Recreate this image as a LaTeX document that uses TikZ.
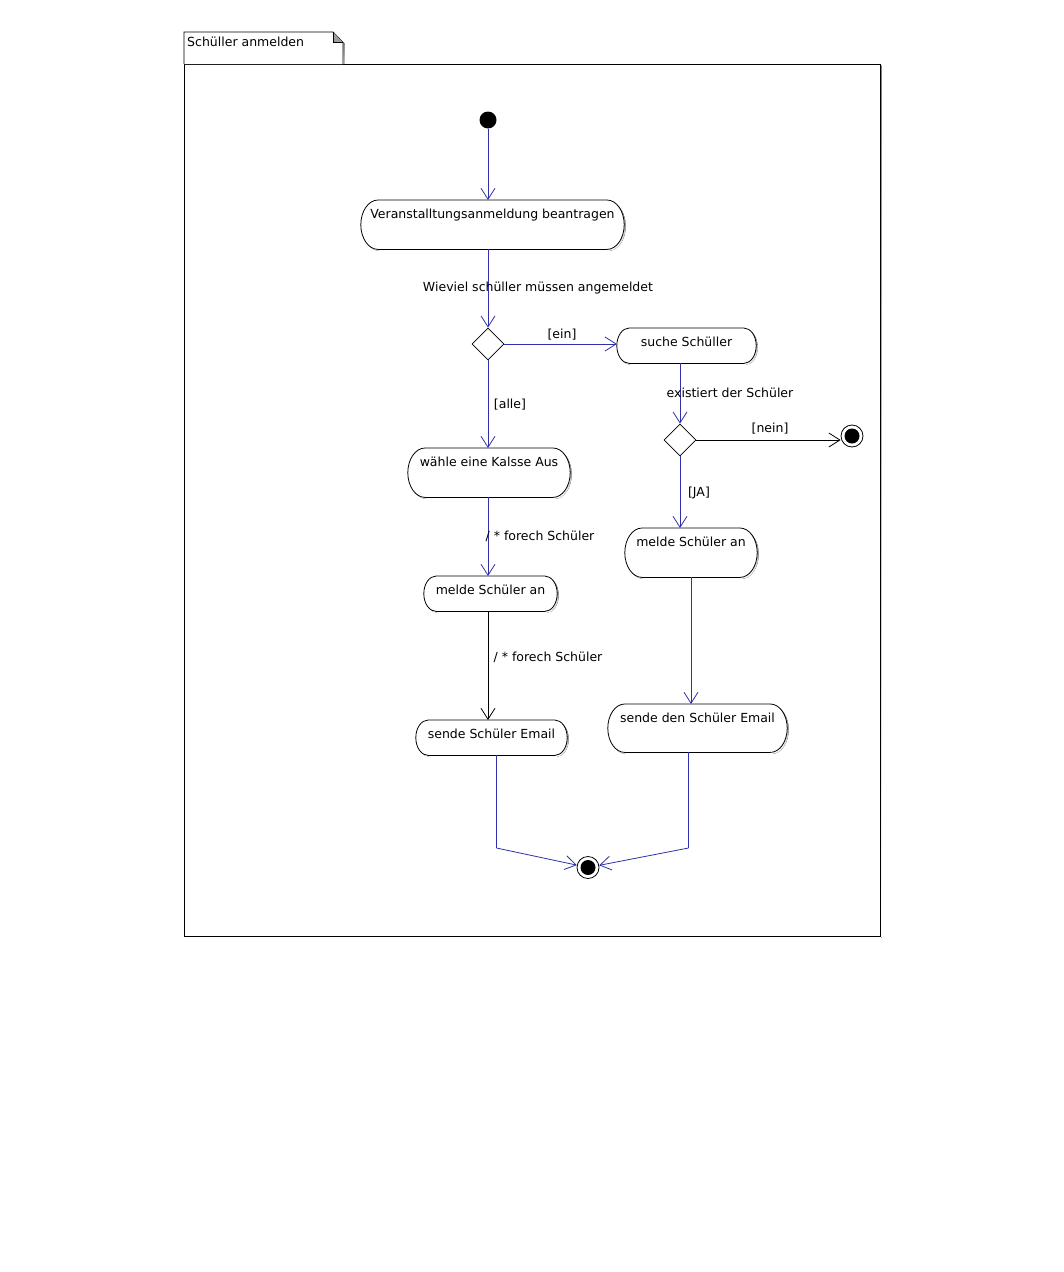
\documentclass[tikz,border=0pt]{standalone}
\usepackage{fontspec}
\setmainfont{DejaVu Sans}
\usetikzlibrary{arrows.meta,shapes.geometric,calc,backgrounds}
\definecolor{flow}{RGB}{48,48,168}
\definecolor{shade}{RGB}{196,196,196}

% outline of an action box: flat top and bottom, elliptic ends;
% #1 = node name, #2 = offset (used for the drop shadow)
\newcommand\actpath[2]{%
  let \p1=(#1.north west), \p2=(#1.south east), \n1={(\y1-\y2)/2},
      \n2={0.7*\n1} in
  (\x1+\n2+#2,\y1-#2) -- (\x2-\n2+#2,\y1-#2)
  arc[start angle=90, end angle=-90, x radius=\n2, y radius=\n1]
  -- (\x1+\n2+#2,\y2-#2)
  arc[start angle=270, end angle=90, x radius=\n2, y radius=\n1] -- cycle}
\newcommand\actbox[1]{%
  \fill[shade] \actpath{#1}{1.5pt};
  \filldraw[fill=white, draw=black, line width=0.8pt] \actpath{#1}{0pt};}

\begin{document}
\begin{tikzpicture}[x=1pt,y=1pt,
  every node/.style={font=\fontsize{12.5}{14}\selectfont},
  lbl/.style={inner sep=0pt},
  act/.style={inner xsep=0pt, inner ysep=0pt, text height=18pt, anchor=north},
  dec/.style={diamond, draw, fill=white, line width=0.8pt, inner sep=0pt,
    minimum width=32pt, minimum height=32pt},
  startnode/.style={circle, fill=black, inner sep=0pt, minimum size=17pt},
  endnode/.style={circle, draw, fill=white, line width=0.8pt, inner sep=0pt,
    minimum size=22pt,
    path picture={\fill[black] (path picture bounding box.center) circle (7.5pt);}},
  flowline/.style={draw=flow, line width=0.8pt,
    -{Straight Barb[length=11pt,width=14pt]}},
  ctlline/.style={flowline, draw=black},
  plainflow/.style={draw=flow, line width=0.8pt},
]
\useasboundingbox (0,0) rectangle (1064,-1272);

% page and activity frame with its name tab
\begin{scope}[on background layer]
  \fill[white] (0,0) rectangle (1064,-1272);
  \fill[shade] (185.5,-65.5) rectangle (881.5,-937.5);
  \fill[shade] (185.5,-33.5) -- (334.5,-33.5) -- (344.5,-43.5) -- (344.5,-65.5) -- (185.5,-65.5) -- cycle;
  \filldraw[fill=white, line width=0.8pt] (184,-64) rectangle (880,-936);
  \filldraw[fill=white, line width=0.8pt] (184,-64) -- (184,-32) -- (333,-32) -- (343,-42.5) -- (343,-64);
  \filldraw[fill=shade!80!black, draw=black, line width=0.6pt] (333,-32) -- (333,-42.5) -- (343,-42.5);
\end{scope}
\node[lbl, anchor=west] (title) at (187,-42) {Schüller anmelden};

% nodes
\node[startnode] (s) at (488,-120) {};
\node[act, minimum width=263pt, text depth=31pt] (a1) at (492.5,-200) {Veranstalltungsanmeldung beantragen};
\node[dec] (d1) at (488,-344) {};
\node[act, minimum width=139pt, text depth=17pt] (a2) at (686.5,-328) {suche Schüller};
\node[dec] (d2) at (680,-440) {};
\node[endnode] (f2) at (852,-436) {};
\node[act, minimum width=162pt, text depth=31pt] (a3) at (489,-448) {wähle eine Kalsse Aus};
\node[act, minimum width=133pt, text depth=17pt] (a4) at (490.5,-576) {melde Schüler an};
\node[act, minimum width=132pt, text depth=31pt] (a5) at (691,-528) {melde Schüler an};
\node[act, minimum width=151pt, text depth=17pt] (a6) at (491.5,-720) {sende Schüler Email};
\node[act, minimum width=179pt, text depth=30pt] (a7) at (697.5,-704) {sende den Schüler Email};
\node[endnode] (f1) at (588,-867.5) {};

\begin{scope}[on background layer]
  \foreach \nm in {a1,a2,a3,a4,a5,a6,a7} {\actbox{\nm}}
\end{scope}

% bend points of the joins into the final node
\coordinate (jl) at (496.5,-848);
\coordinate (jr) at (688.5,-848);

% connectors
\draw[flowline] (s.south) -- (s.south |- a1.north);
\draw[flowline] (d1 |- a1.south) -- (d1.north);
\draw[flowline] (d1.east) -- (d1.east -| a2.west);
\draw[flowline] (d1.south) -- (d1.south |- a3.north);
\draw[flowline] (d2 |- a2.south) -- (d2.north);
\draw[ctlline] (d2.east) -- (d2.east -| f2.west);
\draw[flowline] (d2.south) -- (d2.south |- a5.north);
\draw[flowline] (d1 |- a3.south) -- (d1 |- a4.north);
\draw[ctlline] (d1 |- a4.south) -- (d1 |- a6.north);
\draw[flowline] (a5.south) -- (a5.south |- a7.north);
\draw[plainflow] (jl |- a6.south) -- (jl);
\draw[flowline] (jl) -- (f1);
\draw[plainflow] (jr |- a7.south) -- (jr);
\draw[flowline] (jr) -- (f1);

% guard and transition labels
\node[lbl] (t1) at (538,-288) {Wieviel schüller müssen angemeldet};
\node[lbl] (t2) at (562,-335) {[ein]};
\node[lbl] (t3) at (510,-405) {[alle]};
\node[lbl] (t4) at (730,-392.5) {existiert der Schüler};
\node[lbl] (t5) at (770,-429) {[nein]};
\node[lbl] (t6) at (699,-493) {[JA]};
\node[lbl] (t7) at (540,-536.5) {/ * forech Schüler};
\node[lbl] (t8) at (548,-657) {/ * forech Schüler};
\end{tikzpicture}
\end{document}
